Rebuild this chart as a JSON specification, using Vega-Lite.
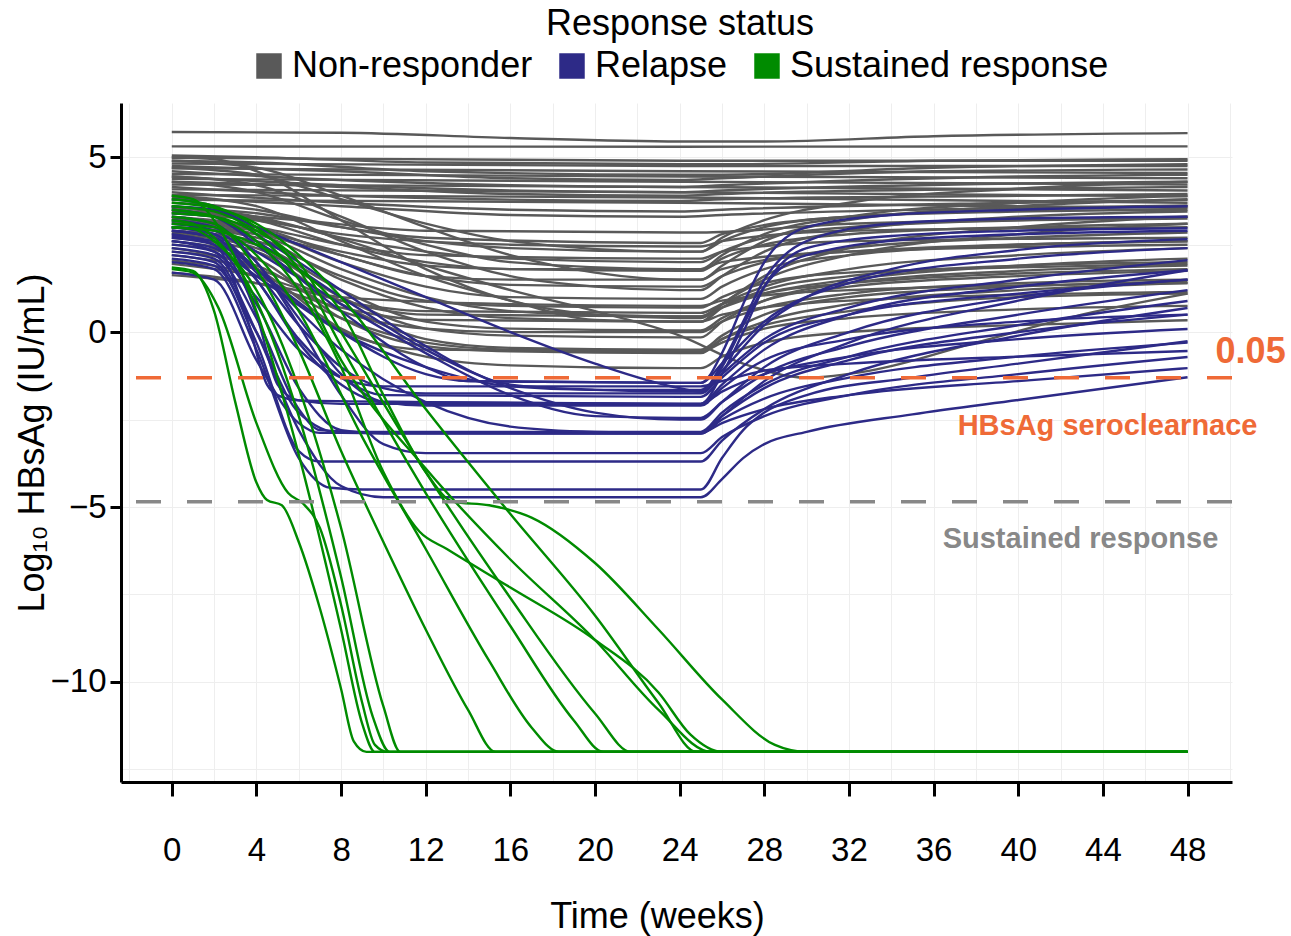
{
"$schema": "https://vega.github.io/schema/vega-lite/v6.json",
"width": 1111, "height": 679,
"autosize": {"type": "none"},
"padding": {"left": 121, "top": 103, "right": 59, "bottom": 154},
"background": "white",
"config": {"font": "Liberation Sans", "view": {"stroke": null},
  "axis": {"labelColor": "black", "titleColor": "black", "titleFontWeight": "normal", "domainColor": "black", "tickColor": "black", "gridColor": "#EEEEEE", "gridWidth": 1}},
"layer": [
{"data": {"values": [
{"i":1,"g":"N","t":0,"v":5.72},{"i":1,"g":"N","t":8,"v":5.7},{"i":1,"g":"N","t":16,"v":5.55},{"i":1,"g":"N","t":24,"v":5.45},{"i":1,"g":"N","t":28,"v":5.45},{"i":1,"g":"N","t":36,"v":5.6},{"i":1,"g":"N","t":48,"v":5.69},
{"i":2,"g":"N","t":0,"v":5.31},{"i":2,"g":"N","t":24,"v":5.3},{"i":2,"g":"N","t":48,"v":5.31},
{"i":3,"g":"N","t":0,"v":5.05},{"i":3,"g":"N","t":4,"v":5.0},{"i":3,"g":"N","t":12,"v":4.85},{"i":3,"g":"N","t":24,"v":4.8},{"i":3,"g":"N","t":26,"v":4.8},{"i":3,"g":"N","t":36,"v":4.9},{"i":3,"g":"N","t":48,"v":4.94},
{"i":4,"g":"N","t":0,"v":4.98},{"i":4,"g":"N","t":24,"v":4.9},{"i":4,"g":"N","t":48,"v":4.9},
{"i":5,"g":"N","t":0,"v":4.9},{"i":5,"g":"N","t":4,"v":4.85},{"i":5,"g":"N","t":12,"v":4.6},{"i":5,"g":"N","t":24,"v":4.5},{"i":5,"g":"N","t":26,"v":4.5},{"i":5,"g":"N","t":36,"v":4.7},{"i":5,"g":"N","t":48,"v":4.8},
{"i":6,"g":"N","t":0,"v":4.82},{"i":6,"g":"N","t":24,"v":4.75},{"i":6,"g":"N","t":48,"v":4.75},
{"i":7,"g":"N","t":0,"v":4.75},{"i":7,"g":"N","t":8,"v":4.6},{"i":7,"g":"N","t":16,"v":4.4},{"i":7,"g":"N","t":24,"v":4.35},{"i":7,"g":"N","t":26,"v":4.4},{"i":7,"g":"N","t":36,"v":4.6},{"i":7,"g":"N","t":48,"v":4.65},
{"i":8,"g":"N","t":0,"v":4.68},{"i":8,"g":"N","t":24,"v":4.6},{"i":8,"g":"N","t":48,"v":4.55},
{"i":9,"g":"N","t":0,"v":4.6},{"i":9,"g":"N","t":6,"v":4.4},{"i":9,"g":"N","t":16,"v":4.2},{"i":9,"g":"N","t":24,"v":4.15},{"i":9,"g":"N","t":26,"v":4.2},{"i":9,"g":"N","t":40,"v":4.45},{"i":9,"g":"N","t":48,"v":4.5},
{"i":10,"g":"N","t":0,"v":4.52},{"i":10,"g":"N","t":24,"v":4.45},{"i":10,"g":"N","t":48,"v":4.4},
{"i":11,"g":"N","t":0,"v":4.45},{"i":11,"g":"N","t":8,"v":4.2},{"i":11,"g":"N","t":24,"v":4.0},{"i":11,"g":"N","t":26,"v":4.05},{"i":11,"g":"N","t":40,"v":4.25},{"i":11,"g":"N","t":48,"v":4.3},
{"i":12,"g":"N","t":0,"v":4.38},{"i":12,"g":"N","t":24,"v":4.3},{"i":12,"g":"N","t":48,"v":4.22},
{"i":13,"g":"N","t":0,"v":4.3},{"i":13,"g":"N","t":6,"v":4.2},{"i":13,"g":"N","t":16,"v":3.95},{"i":13,"g":"N","t":24,"v":3.9},{"i":13,"g":"N","t":26,"v":3.95},{"i":13,"g":"N","t":40,"v":4.1},{"i":13,"g":"N","t":48,"v":4.15},
{"i":14,"g":"N","t":0,"v":4.22},{"i":14,"g":"N","t":24,"v":4.15},{"i":14,"g":"N","t":48,"v":4.05},
{"i":15,"g":"N","t":0,"v":4.15},{"i":15,"g":"N","t":8,"v":3.9},{"i":15,"g":"N","t":24,"v":3.75},{"i":15,"g":"N","t":26,"v":3.8},{"i":15,"g":"N","t":40,"v":3.9},{"i":15,"g":"N","t":48,"v":3.95},
{"i":16,"g":"N","t":0,"v":4.08},{"i":16,"g":"N","t":24,"v":4.0},{"i":16,"g":"N","t":48,"v":3.88},
{"i":17,"g":"N","t":0,"v":4.0},{"i":17,"g":"N","t":8,"v":3.7},{"i":17,"g":"N","t":16,"v":3.5},{"i":17,"g":"N","t":24,"v":3.45},{"i":17,"g":"N","t":26,"v":3.5},{"i":17,"g":"N","t":40,"v":3.7},{"i":17,"g":"N","t":48,"v":3.78},
{"i":18,"g":"N","t":0,"v":3.92},{"i":18,"g":"N","t":24,"v":3.85},{"i":18,"g":"N","t":48,"v":3.7},
{"i":19,"g":"N","t":0,"v":3.85},{"i":19,"g":"N","t":8,"v":3.6},{"i":19,"g":"N","t":16,"v":3.35},{"i":19,"g":"N","t":24,"v":3.3},{"i":19,"g":"N","t":26,"v":3.35},{"i":19,"g":"N","t":40,"v":3.55},{"i":19,"g":"N","t":48,"v":3.62},
{"i":20,"g":"N","t":0,"v":3.78},{"i":20,"g":"N","t":24,"v":3.7},{"i":20,"g":"N","t":48,"v":3.55},
{"i":21,"g":"N","t":0,"v":5.0},{"i":21,"g":"N","t":2,"v":4.95},{"i":21,"g":"N","t":4,"v":4.6},{"i":21,"g":"N","t":8,"v":3.2},{"i":21,"g":"N","t":12,"v":1.8},{"i":21,"g":"N","t":16,"v":0.9},{"i":21,"g":"N","t":20,"v":0.5},{"i":21,"g":"N","t":24,"v":0.4},{"i":21,"g":"N","t":25,"v":0.4},{"i":21,"g":"N","t":26,"v":0.8},{"i":21,"g":"N","t":28,"v":1.6},{"i":21,"g":"N","t":32,"v":2.4},{"i":21,"g":"N","t":40,"v":3.0},{"i":21,"g":"N","t":48,"v":3.3},
{"i":22,"g":"N","t":0,"v":4.9},{"i":22,"g":"N","t":4,"v":4.7},{"i":22,"g":"N","t":8,"v":3.9},{"i":22,"g":"N","t":12,"v":3.0},{"i":22,"g":"N","t":16,"v":2.2},{"i":22,"g":"N","t":20,"v":1.7},{"i":22,"g":"N","t":24,"v":1.5},{"i":22,"g":"N","t":25,"v":1.5},{"i":22,"g":"N","t":26,"v":1.9},{"i":22,"g":"N","t":28,"v":2.6},{"i":22,"g":"N","t":32,"v":3.2},{"i":22,"g":"N","t":40,"v":3.6},{"i":22,"g":"N","t":48,"v":3.8},
{"i":23,"g":"N","t":0,"v":4.45},{"i":23,"g":"N","t":4,"v":4.2},{"i":23,"g":"N","t":8,"v":3.3},{"i":23,"g":"N","t":12,"v":2.3},{"i":23,"g":"N","t":16,"v":1.6},{"i":23,"g":"N","t":20,"v":1.3},{"i":23,"g":"N","t":24,"v":1.2},{"i":23,"g":"N","t":25,"v":1.2},{"i":23,"g":"N","t":26,"v":1.6},{"i":23,"g":"N","t":28,"v":2.3},{"i":23,"g":"N","t":32,"v":2.9},{"i":23,"g":"N","t":40,"v":3.3},{"i":23,"g":"N","t":48,"v":3.45},
{"i":24,"g":"N","t":0,"v":3.6},{"i":24,"g":"N","t":6,"v":3.0},{"i":24,"g":"N","t":12,"v":1.9},{"i":24,"g":"N","t":16,"v":1.2},{"i":24,"g":"N","t":20,"v":0.6},{"i":24,"g":"N","t":24,"v":-0.1},{"i":24,"g":"N","t":27,"v":-0.9},{"i":24,"g":"N","t":30,"v":-1.3},{"i":24,"g":"N","t":33,"v":-1.1},{"i":24,"g":"N","t":38,"v":-0.3},{"i":24,"g":"N","t":43,"v":0.5},{"i":24,"g":"N","t":48,"v":1.1},
{"i":25,"g":"N","t":0,"v":3.7},{"i":25,"g":"N","t":4,"v":3.5},{"i":25,"g":"N","t":8,"v":3.0},{"i":25,"g":"N","t":12,"v":2.6},{"i":25,"g":"N","t":16,"v":2.4},{"i":25,"g":"N","t":24,"v":2.3},{"i":25,"g":"N","t":25,"v":2.3},{"i":25,"g":"N","t":26,"v":2.6},{"i":25,"g":"N","t":28,"v":3.0},{"i":25,"g":"N","t":32,"v":3.3},{"i":25,"g":"N","t":40,"v":3.45},{"i":25,"g":"N","t":48,"v":3.5},
{"i":26,"g":"N","t":0,"v":3.6},{"i":26,"g":"N","t":4,"v":3.3},{"i":26,"g":"N","t":8,"v":2.7},{"i":26,"g":"N","t":12,"v":2.3},{"i":26,"g":"N","t":16,"v":2.1},{"i":26,"g":"N","t":24,"v":2.0},{"i":26,"g":"N","t":25,"v":2.0},{"i":26,"g":"N","t":26,"v":2.3},{"i":26,"g":"N","t":28,"v":2.7},{"i":26,"g":"N","t":32,"v":3.0},{"i":26,"g":"N","t":40,"v":3.2},{"i":26,"g":"N","t":48,"v":3.3},
{"i":27,"g":"N","t":0,"v":3.55},{"i":27,"g":"N","t":4,"v":3.4},{"i":27,"g":"N","t":8,"v":3.0},{"i":27,"g":"N","t":12,"v":2.7},{"i":27,"g":"N","t":24,"v":2.55},{"i":27,"g":"N","t":25,"v":2.55},{"i":27,"g":"N","t":26,"v":2.8},{"i":27,"g":"N","t":32,"v":3.3},{"i":27,"g":"N","t":48,"v":3.6},
{"i":28,"g":"N","t":0,"v":3.45},{"i":28,"g":"N","t":4,"v":3.2},{"i":28,"g":"N","t":8,"v":2.5},{"i":28,"g":"N","t":12,"v":2.0},{"i":28,"g":"N","t":16,"v":1.8},{"i":28,"g":"N","t":24,"v":1.75},{"i":28,"g":"N","t":25,"v":1.75},{"i":28,"g":"N","t":26,"v":2.1},{"i":28,"g":"N","t":28,"v":2.5},{"i":28,"g":"N","t":32,"v":2.8},{"i":28,"g":"N","t":40,"v":3.0},{"i":28,"g":"N","t":48,"v":3.1},
{"i":29,"g":"N","t":0,"v":3.4},{"i":29,"g":"N","t":4,"v":3.2},{"i":29,"g":"N","t":8,"v":2.8},{"i":29,"g":"N","t":16,"v":2.5},{"i":29,"g":"N","t":24,"v":2.45},{"i":29,"g":"N","t":25,"v":2.45},{"i":29,"g":"N","t":26,"v":2.6},{"i":29,"g":"N","t":32,"v":2.9},{"i":29,"g":"N","t":48,"v":3.0},
{"i":30,"g":"N","t":0,"v":3.3},{"i":30,"g":"N","t":4,"v":3.0},{"i":30,"g":"N","t":8,"v":2.2},{"i":30,"g":"N","t":12,"v":1.6},{"i":30,"g":"N","t":16,"v":1.35},{"i":30,"g":"N","t":24,"v":1.3},{"i":30,"g":"N","t":25,"v":1.3},{"i":30,"g":"N","t":26,"v":1.6},{"i":30,"g":"N","t":28,"v":2.0},{"i":30,"g":"N","t":32,"v":2.4},{"i":30,"g":"N","t":40,"v":2.7},{"i":30,"g":"N","t":48,"v":2.85},
{"i":31,"g":"N","t":0,"v":3.25},{"i":31,"g":"N","t":4,"v":3.0},{"i":31,"g":"N","t":8,"v":2.5},{"i":31,"g":"N","t":12,"v":2.2},{"i":31,"g":"N","t":24,"v":2.1},{"i":31,"g":"N","t":25,"v":2.1},{"i":31,"g":"N","t":26,"v":2.3},{"i":31,"g":"N","t":32,"v":2.6},{"i":31,"g":"N","t":48,"v":2.7},
{"i":32,"g":"N","t":0,"v":3.2},{"i":32,"g":"N","t":4,"v":2.9},{"i":32,"g":"N","t":8,"v":2.0},{"i":32,"g":"N","t":12,"v":1.3},{"i":32,"g":"N","t":16,"v":1.0},{"i":32,"g":"N","t":24,"v":0.95},{"i":32,"g":"N","t":25,"v":0.95},{"i":32,"g":"N","t":26,"v":1.3},{"i":32,"g":"N","t":28,"v":1.8},{"i":32,"g":"N","t":32,"v":2.2},{"i":32,"g":"N","t":40,"v":2.5},{"i":32,"g":"N","t":48,"v":2.6},
{"i":33,"g":"N","t":0,"v":3.15},{"i":33,"g":"N","t":4,"v":2.9},{"i":33,"g":"N","t":8,"v":2.3},{"i":33,"g":"N","t":12,"v":1.9},{"i":33,"g":"N","t":16,"v":1.8},{"i":33,"g":"N","t":24,"v":1.8},{"i":33,"g":"N","t":25,"v":1.8},{"i":33,"g":"N","t":26,"v":2.0},{"i":33,"g":"N","t":32,"v":2.3},{"i":33,"g":"N","t":48,"v":2.5},
{"i":34,"g":"N","t":0,"v":3.1},{"i":34,"g":"N","t":4,"v":2.8},{"i":34,"g":"N","t":8,"v":1.8},{"i":34,"g":"N","t":12,"v":1.0},{"i":34,"g":"N","t":16,"v":0.6},{"i":34,"g":"N","t":20,"v":0.5},{"i":34,"g":"N","t":24,"v":0.45},{"i":34,"g":"N","t":25,"v":0.45},{"i":34,"g":"N","t":26,"v":0.8},{"i":34,"g":"N","t":28,"v":1.3},{"i":34,"g":"N","t":32,"v":1.8},{"i":34,"g":"N","t":40,"v":2.2},{"i":34,"g":"N","t":48,"v":2.4},
{"i":35,"g":"N","t":0,"v":3.0},{"i":35,"g":"N","t":4,"v":2.7},{"i":35,"g":"N","t":8,"v":1.5},{"i":35,"g":"N","t":12,"v":0.7},{"i":35,"g":"N","t":16,"v":0.4},{"i":35,"g":"N","t":24,"v":0.3},{"i":35,"g":"N","t":25,"v":0.3},{"i":35,"g":"N","t":26,"v":0.7},{"i":35,"g":"N","t":28,"v":1.2},{"i":35,"g":"N","t":32,"v":1.6},{"i":35,"g":"N","t":40,"v":1.9},{"i":35,"g":"N","t":48,"v":2.0},
{"i":36,"g":"N","t":0,"v":2.9},{"i":36,"g":"N","t":4,"v":2.6},{"i":36,"g":"N","t":8,"v":1.6},{"i":36,"g":"N","t":12,"v":0.9},{"i":36,"g":"N","t":16,"v":0.75},{"i":36,"g":"N","t":24,"v":0.7},{"i":36,"g":"N","t":25,"v":0.7},{"i":36,"g":"N","t":26,"v":1.0},{"i":36,"g":"N","t":28,"v":1.4},{"i":36,"g":"N","t":32,"v":1.7},{"i":36,"g":"N","t":40,"v":1.85},{"i":36,"g":"N","t":48,"v":1.95},
{"i":37,"g":"N","t":0,"v":2.85},{"i":37,"g":"N","t":4,"v":2.5},{"i":37,"g":"N","t":8,"v":1.2},{"i":37,"g":"N","t":12,"v":0.3},{"i":37,"g":"N","t":16,"v":0.1},{"i":37,"g":"N","t":24,"v":0.05},{"i":37,"g":"N","t":25,"v":0.05},{"i":37,"g":"N","t":26,"v":0.4},{"i":37,"g":"N","t":28,"v":0.9},{"i":37,"g":"N","t":32,"v":1.3},{"i":37,"g":"N","t":40,"v":1.6},{"i":37,"g":"N","t":48,"v":1.75},
{"i":38,"g":"N","t":0,"v":2.8},{"i":38,"g":"N","t":4,"v":2.4},{"i":38,"g":"N","t":8,"v":1.0},{"i":38,"g":"N","t":12,"v":0.1},{"i":38,"g":"N","t":16,"v":-0.1},{"i":38,"g":"N","t":24,"v":-0.15},{"i":38,"g":"N","t":25,"v":-0.15},{"i":38,"g":"N","t":26,"v":0.3},{"i":38,"g":"N","t":28,"v":0.9},{"i":38,"g":"N","t":32,"v":1.4},{"i":38,"g":"N","t":40,"v":1.75},{"i":38,"g":"N","t":48,"v":1.9},
{"i":39,"g":"N","t":0,"v":2.7},{"i":39,"g":"N","t":4,"v":2.3},{"i":39,"g":"N","t":8,"v":0.8},{"i":39,"g":"N","t":12,"v":-0.2},{"i":39,"g":"N","t":16,"v":-0.45},{"i":39,"g":"N","t":24,"v":-0.5},{"i":39,"g":"N","t":25,"v":-0.5},{"i":39,"g":"N","t":26,"v":-0.1},{"i":39,"g":"N","t":28,"v":0.5},{"i":39,"g":"N","t":32,"v":1.0},{"i":39,"g":"N","t":40,"v":1.3},{"i":39,"g":"N","t":48,"v":1.45},
{"i":40,"g":"N","t":0,"v":2.6},{"i":40,"g":"N","t":4,"v":2.1},{"i":40,"g":"N","t":8,"v":0.4},{"i":40,"g":"N","t":12,"v":-0.4},{"i":40,"g":"N","t":16,"v":-0.55},{"i":40,"g":"N","t":24,"v":-0.6},{"i":40,"g":"N","t":25,"v":-0.6},{"i":40,"g":"N","t":26,"v":-0.2},{"i":40,"g":"N","t":28,"v":0.3},{"i":40,"g":"N","t":32,"v":0.8},{"i":40,"g":"N","t":40,"v":1.2},{"i":40,"g":"N","t":48,"v":1.4},
{"i":41,"g":"N","t":0,"v":2.5},{"i":41,"g":"N","t":3,"v":2.2},{"i":41,"g":"N","t":6,"v":0.8},{"i":41,"g":"N","t":9,"v":-0.2},{"i":41,"g":"N","t":12,"v":-0.5},{"i":41,"g":"N","t":24,"v":-0.55},{"i":41,"g":"N","t":25,"v":-0.55},{"i":41,"g":"N","t":26,"v":-0.2},{"i":41,"g":"N","t":28,"v":0.2},{"i":41,"g":"N","t":32,"v":0.6},{"i":41,"g":"N","t":40,"v":1.0},{"i":41,"g":"N","t":48,"v":1.1},
{"i":42,"g":"N","t":0,"v":2.4},{"i":42,"g":"N","t":4,"v":1.8},{"i":42,"g":"N","t":8,"v":0.1},{"i":42,"g":"N","t":12,"v":-0.7},{"i":42,"g":"N","t":16,"v":-0.95},{"i":42,"g":"N","t":24,"v":-1.03},{"i":42,"g":"N","t":25,"v":-1.03},{"i":42,"g":"N","t":26,"v":-0.7},{"i":42,"g":"N","t":28,"v":-0.3},{"i":42,"g":"N","t":32,"v":0.0},{"i":42,"g":"N","t":40,"v":0.2},{"i":42,"g":"N","t":48,"v":0.34},
{"i":43,"g":"N","t":0,"v":2.3},{"i":43,"g":"N","t":4,"v":1.9},{"i":43,"g":"N","t":8,"v":0.6},{"i":43,"g":"N","t":12,"v":0.1},{"i":43,"g":"N","t":16,"v":0.0},{"i":43,"g":"N","t":24,"v":0.0},{"i":43,"g":"N","t":25,"v":0.0},{"i":43,"g":"N","t":26,"v":0.3},{"i":43,"g":"N","t":28,"v":0.7},{"i":43,"g":"N","t":32,"v":1.1},{"i":43,"g":"N","t":40,"v":1.4},{"i":43,"g":"N","t":48,"v":1.5},
{"i":44,"g":"N","t":0,"v":2.2},{"i":44,"g":"N","t":4,"v":1.8},{"i":44,"g":"N","t":8,"v":0.9},{"i":44,"g":"N","t":12,"v":0.5},{"i":44,"g":"N","t":24,"v":0.45},{"i":44,"g":"N","t":25,"v":0.45},{"i":44,"g":"N","t":26,"v":0.7},{"i":44,"g":"N","t":28,"v":1.1},{"i":44,"g":"N","t":32,"v":1.5},{"i":44,"g":"N","t":40,"v":1.9},{"i":44,"g":"N","t":48,"v":2.1},
{"i":45,"g":"N","t":0,"v":2.05},{"i":45,"g":"N","t":4,"v":1.6},{"i":45,"g":"N","t":8,"v":0.4},{"i":45,"g":"N","t":12,"v":-0.3},{"i":45,"g":"N","t":16,"v":-0.5},{"i":45,"g":"N","t":24,"v":-0.55},{"i":45,"g":"N","t":25,"v":-0.55},{"i":45,"g":"N","t":26,"v":-0.3},{"i":45,"g":"N","t":28,"v":0.1},{"i":45,"g":"N","t":32,"v":0.4},{"i":45,"g":"N","t":40,"v":0.65},{"i":45,"g":"N","t":48,"v":0.75},
{"i":46,"g":"N","t":0,"v":1.95},{"i":46,"g":"N","t":4,"v":1.6},{"i":46,"g":"N","t":8,"v":0.9},{"i":46,"g":"N","t":12,"v":0.6},{"i":46,"g":"N","t":24,"v":0.55},{"i":46,"g":"N","t":25,"v":0.55},{"i":46,"g":"N","t":26,"v":0.8},{"i":46,"g":"N","t":32,"v":1.4},{"i":46,"g":"N","t":48,"v":1.8},
{"i":47,"g":"N","t":0,"v":1.7},{"i":47,"g":"N","t":4,"v":1.4},{"i":47,"g":"N","t":8,"v":0.7},{"i":47,"g":"N","t":12,"v":0.35},{"i":47,"g":"N","t":24,"v":0.3},{"i":47,"g":"N","t":25,"v":0.3},{"i":47,"g":"N","t":26,"v":0.5},{"i":47,"g":"N","t":32,"v":0.9},{"i":47,"g":"N","t":48,"v":1.15},
{"i":48,"g":"N","t":0,"v":1.63},{"i":48,"g":"N","t":4,"v":1.4},{"i":48,"g":"N","t":8,"v":1.0},{"i":48,"g":"N","t":16,"v":0.8},{"i":48,"g":"N","t":24,"v":0.75},{"i":48,"g":"N","t":25,"v":0.75},{"i":48,"g":"N","t":26,"v":0.9},{"i":48,"g":"N","t":32,"v":1.2},{"i":48,"g":"N","t":48,"v":1.4},
{"i":49,"g":"N","t":0,"v":3.5},{"i":49,"g":"N","t":6,"v":3.2},{"i":49,"g":"N","t":12,"v":2.9},{"i":49,"g":"N","t":24,"v":2.85},{"i":49,"g":"N","t":25,"v":2.85},{"i":49,"g":"N","t":32,"v":3.1},{"i":49,"g":"N","t":48,"v":3.25},
{"i":50,"g":"N","t":0,"v":3.0},{"i":50,"g":"N","t":4,"v":2.8},{"i":50,"g":"N","t":8,"v":2.2},{"i":50,"g":"N","t":12,"v":1.6},{"i":50,"g":"N","t":16,"v":1.5},{"i":50,"g":"N","t":24,"v":1.5},{"i":50,"g":"N","t":25,"v":1.5},{"i":50,"g":"N","t":26,"v":1.8},{"i":50,"g":"N","t":32,"v":2.3},{"i":50,"g":"N","t":48,"v":2.6},
{"i":51,"g":"N","t":0,"v":4.3},{"i":51,"g":"N","t":4,"v":4.0},{"i":51,"g":"N","t":8,"v":3.2},{"i":51,"g":"N","t":12,"v":2.5},{"i":51,"g":"N","t":16,"v":2.0},{"i":51,"g":"N","t":24,"v":1.8},{"i":51,"g":"N","t":25,"v":1.8},{"i":51,"g":"N","t":26,"v":2.2},{"i":51,"g":"N","t":28,"v":2.8},{"i":51,"g":"N","t":32,"v":3.3},{"i":51,"g":"N","t":40,"v":3.7},{"i":51,"g":"N","t":48,"v":3.9},
{"i":52,"g":"N","t":0,"v":4.7},{"i":52,"g":"N","t":4,"v":4.5},{"i":52,"g":"N","t":8,"v":3.8},{"i":52,"g":"N","t":12,"v":3.1},{"i":52,"g":"N","t":16,"v":2.6},{"i":52,"g":"N","t":24,"v":2.3},{"i":52,"g":"N","t":25,"v":2.3},{"i":52,"g":"N","t":26,"v":2.7},{"i":52,"g":"N","t":28,"v":3.2},{"i":52,"g":"N","t":32,"v":3.7},{"i":52,"g":"N","t":40,"v":4.1},{"i":52,"g":"N","t":48,"v":4.3},
{"i":53,"g":"N","t":0,"v":3.9},{"i":53,"g":"N","t":4,"v":3.6},{"i":53,"g":"N","t":8,"v":2.6},{"i":53,"g":"N","t":12,"v":1.6},{"i":53,"g":"N","t":16,"v":0.9},{"i":53,"g":"N","t":20,"v":0.35},{"i":53,"g":"N","t":24,"v":0.3},{"i":53,"g":"N","t":25,"v":0.3},{"i":53,"g":"N","t":26,"v":0.8},{"i":53,"g":"N","t":28,"v":1.5},{"i":53,"g":"N","t":32,"v":2.2},{"i":53,"g":"N","t":40,"v":2.8},{"i":53,"g":"N","t":48,"v":3.1},
{"i":101,"g":"R","t":0,"v":3.0},{"i":101,"g":"R","t":2,"v":2.8},{"i":101,"g":"R","t":4,"v":1.8},{"i":101,"g":"R","t":8,"v":0.0},{"i":101,"g":"R","t":12,"v":-1.2},{"i":101,"g":"R","t":14,"v":-1.4},{"i":101,"g":"R","t":24,"v":-1.45},{"i":101,"g":"R","t":25,"v":-1.45},{"i":101,"g":"R","t":26,"v":-0.6},{"i":101,"g":"R","t":27,"v":0.8},{"i":101,"g":"R","t":28,"v":2.0},{"i":101,"g":"R","t":30,"v":3.0},{"i":101,"g":"R","t":34,"v":3.35},{"i":101,"g":"R","t":40,"v":3.5},{"i":101,"g":"R","t":48,"v":3.6},
{"i":102,"g":"R","t":0,"v":2.8},{"i":102,"g":"R","t":2,"v":2.5},{"i":102,"g":"R","t":4,"v":0.5},{"i":102,"g":"R","t":5,"v":-1.5},{"i":102,"g":"R","t":6,"v":-1.95},{"i":102,"g":"R","t":8,"v":-2.05},{"i":102,"g":"R","t":24,"v":-2.05},{"i":102,"g":"R","t":25,"v":-2.05},{"i":102,"g":"R","t":26,"v":-1.2},{"i":102,"g":"R","t":27,"v":0.0},{"i":102,"g":"R","t":28,"v":1.3},{"i":102,"g":"R","t":30,"v":2.4},{"i":102,"g":"R","t":34,"v":2.75},{"i":102,"g":"R","t":40,"v":2.9},{"i":102,"g":"R","t":48,"v":2.97},
{"i":103,"g":"R","t":0,"v":2.6},{"i":103,"g":"R","t":2,"v":2.4},{"i":103,"g":"R","t":4,"v":1.6},{"i":103,"g":"R","t":8,"v":0.0},{"i":103,"g":"R","t":12,"v":-1.0},{"i":103,"g":"R","t":16,"v":-1.55},{"i":103,"g":"R","t":20,"v":-1.65},{"i":103,"g":"R","t":24,"v":-1.65},{"i":103,"g":"R","t":25,"v":-1.65},{"i":103,"g":"R","t":26,"v":-1.1},{"i":103,"g":"R","t":28,"v":0.2},{"i":103,"g":"R","t":30,"v":1.0},{"i":103,"g":"R","t":34,"v":1.8},{"i":103,"g":"R","t":40,"v":2.35},{"i":103,"g":"R","t":48,"v":2.66},
{"i":104,"g":"R","t":0,"v":2.9},{"i":104,"g":"R","t":2,"v":2.7},{"i":104,"g":"R","t":4,"v":1.7},{"i":104,"g":"R","t":6,"v":0.2},{"i":104,"g":"R","t":8,"v":-1.0},{"i":104,"g":"R","t":10,"v":-1.6},{"i":104,"g":"R","t":12,"v":-1.75},{"i":104,"g":"R","t":24,"v":-1.75},{"i":104,"g":"R","t":25,"v":-1.75},{"i":104,"g":"R","t":26,"v":-1.2},{"i":104,"g":"R","t":28,"v":-0.2},{"i":104,"g":"R","t":32,"v":0.7},{"i":104,"g":"R","t":40,"v":1.5},{"i":104,"g":"R","t":48,"v":2.06},
{"i":105,"g":"R","t":0,"v":2.5},{"i":105,"g":"R","t":2,"v":2.3},{"i":105,"g":"R","t":4,"v":0.8},{"i":105,"g":"R","t":6,"v":-1.6},{"i":105,"g":"R","t":8,"v":-2.8},{"i":105,"g":"R","t":10,"v":-2.9},{"i":105,"g":"R","t":24,"v":-2.9},{"i":105,"g":"R","t":25,"v":-2.9},{"i":105,"g":"R","t":26,"v":-2.4},{"i":105,"g":"R","t":28,"v":-1.4},{"i":105,"g":"R","t":32,"v":-0.3},{"i":105,"g":"R","t":40,"v":0.9},{"i":105,"g":"R","t":48,"v":1.77},
{"i":106,"g":"R","t":0,"v":3.2},{"i":106,"g":"R","t":2,"v":3.0},{"i":106,"g":"R","t":4,"v":2.3},{"i":106,"g":"R","t":8,"v":0.8},{"i":106,"g":"R","t":12,"v":-0.6},{"i":106,"g":"R","t":16,"v":-1.8},{"i":106,"g":"R","t":20,"v":-2.4},{"i":106,"g":"R","t":24,"v":-2.45},{"i":106,"g":"R","t":25,"v":-2.45},{"i":106,"g":"R","t":26,"v":-2.0},{"i":106,"g":"R","t":28,"v":-1.2},{"i":106,"g":"R","t":32,"v":-0.4},{"i":106,"g":"R","t":40,"v":0.5},{"i":106,"g":"R","t":48,"v":1.2},
{"i":107,"g":"R","t":0,"v":2.4},{"i":107,"g":"R","t":2,"v":2.2},{"i":107,"g":"R","t":4,"v":0.4},{"i":107,"g":"R","t":6,"v":-2.2},{"i":107,"g":"R","t":7,"v":-2.8},{"i":107,"g":"R","t":9,"v":-2.85},{"i":107,"g":"R","t":24,"v":-2.85},{"i":107,"g":"R","t":25,"v":-2.85},{"i":107,"g":"R","t":26,"v":-2.3},{"i":107,"g":"R","t":28,"v":-1.5},{"i":107,"g":"R","t":32,"v":-0.7},{"i":107,"g":"R","t":40,"v":0.2},{"i":107,"g":"R","t":48,"v":0.89},
{"i":108,"g":"R","t":0,"v":2.2},{"i":108,"g":"R","t":2,"v":2.0},{"i":108,"g":"R","t":4,"v":-0.3},{"i":108,"g":"R","t":6,"v":-3.4},{"i":108,"g":"R","t":7,"v":-3.7},{"i":108,"g":"R","t":24,"v":-3.7},{"i":108,"g":"R","t":25,"v":-3.7},{"i":108,"g":"R","t":26,"v":-3.1},{"i":108,"g":"R","t":28,"v":-2.2},{"i":108,"g":"R","t":32,"v":-1.2},{"i":108,"g":"R","t":40,"v":-0.1},{"i":108,"g":"R","t":48,"v":0.69},
{"i":109,"g":"R","t":0,"v":2.7},{"i":109,"g":"R","t":2,"v":2.5},{"i":109,"g":"R","t":3.5,"v":0.5},{"i":109,"g":"R","t":4.5,"v":-1.5},{"i":109,"g":"R","t":5,"v":-1.8},{"i":109,"g":"R","t":6,"v":-1.95},{"i":109,"g":"R","t":12,"v":-2.0},{"i":109,"g":"R","t":24,"v":-2.05},{"i":109,"g":"R","t":25,"v":-2.05},{"i":109,"g":"R","t":26,"v":-1.7},{"i":109,"g":"R","t":28,"v":-1.2},{"i":109,"g":"R","t":32,"v":-0.7},{"i":109,"g":"R","t":40,"v":-0.2},{"i":109,"g":"R","t":48,"v":0.09},
{"i":110,"g":"R","t":0,"v":2.0},{"i":110,"g":"R","t":2,"v":1.8},{"i":110,"g":"R","t":4,"v":-0.5},{"i":110,"g":"R","t":6,"v":-3.6},{"i":110,"g":"R","t":7.5,"v":-4.45},{"i":110,"g":"R","t":9,"v":-4.5},{"i":110,"g":"R","t":24,"v":-4.5},{"i":110,"g":"R","t":25,"v":-4.5},{"i":110,"g":"R","t":26,"v":-3.6},{"i":110,"g":"R","t":27,"v":-2.8},{"i":110,"g":"R","t":28,"v":-2.3},{"i":110,"g":"R","t":30,"v":-1.8},{"i":110,"g":"R","t":35,"v":-1.3},{"i":110,"g":"R","t":40,"v":-0.9},{"i":110,"g":"R","t":48,"v":-0.26},
{"i":111,"g":"R","t":0,"v":2.3},{"i":111,"g":"R","t":2,"v":2.1},{"i":111,"g":"R","t":4,"v":0.0},{"i":111,"g":"R","t":6,"v":-2.8},{"i":111,"g":"R","t":8,"v":-4.4},{"i":111,"g":"R","t":10,"v":-4.72},{"i":111,"g":"R","t":24,"v":-4.72},{"i":111,"g":"R","t":25,"v":-4.72},{"i":111,"g":"R","t":26,"v":-4.2},{"i":111,"g":"R","t":27,"v":-3.6},{"i":111,"g":"R","t":28,"v":-3.2},{"i":111,"g":"R","t":30,"v":-2.85},{"i":111,"g":"R","t":35,"v":-2.35},{"i":111,"g":"R","t":40,"v":-1.94},{"i":111,"g":"R","t":48,"v":-1.29},
{"i":112,"g":"R","t":0,"v":3.1},{"i":112,"g":"R","t":2,"v":2.9},{"i":112,"g":"R","t":4,"v":2.0},{"i":112,"g":"R","t":6,"v":0.2},{"i":112,"g":"R","t":8,"v":-1.8},{"i":112,"g":"R","t":10,"v":-3.2},{"i":112,"g":"R","t":12,"v":-3.46},{"i":112,"g":"R","t":24,"v":-3.46},{"i":112,"g":"R","t":25,"v":-3.46},{"i":112,"g":"R","t":26,"v":-3.0},{"i":112,"g":"R","t":28,"v":-2.4},{"i":112,"g":"R","t":32,"v":-1.8},{"i":112,"g":"R","t":40,"v":-1.2},{"i":112,"g":"R","t":48,"v":-0.71},
{"i":113,"g":"R","t":0,"v":1.7},{"i":113,"g":"R","t":2,"v":1.5},{"i":113,"g":"R","t":4,"v":-0.8},{"i":113,"g":"R","t":6,"v":-2.6},{"i":113,"g":"R","t":7,"v":-2.88},{"i":113,"g":"R","t":24,"v":-2.88},{"i":113,"g":"R","t":25,"v":-2.88},{"i":113,"g":"R","t":26,"v":-2.6},{"i":113,"g":"R","t":28,"v":-2.2},{"i":113,"g":"R","t":32,"v":-1.8},{"i":113,"g":"R","t":40,"v":-1.4},{"i":113,"g":"R","t":48,"v":-1.03},
{"i":114,"g":"R","t":0,"v":2.6},{"i":114,"g":"R","t":2,"v":2.3},{"i":114,"g":"R","t":4,"v":1.0},{"i":114,"g":"R","t":6,"v":-0.5},{"i":114,"g":"R","t":8,"v":-1.3},{"i":114,"g":"R","t":10,"v":-1.55},{"i":114,"g":"R","t":24,"v":-1.55},{"i":114,"g":"R","t":25,"v":-1.55},{"i":114,"g":"R","t":26,"v":-1.4},{"i":114,"g":"R","t":28,"v":-1.1},{"i":114,"g":"R","t":32,"v":-0.9},{"i":114,"g":"R","t":40,"v":-0.7},{"i":114,"g":"R","t":48,"v":-0.54},
{"i":115,"g":"R","t":0,"v":3.4},{"i":115,"g":"R","t":2,"v":3.3},{"i":115,"g":"R","t":4,"v":2.6},{"i":115,"g":"R","t":8,"v":1.0},{"i":115,"g":"R","t":12,"v":-0.5},{"i":115,"g":"R","t":16,"v":-1.6},{"i":115,"g":"R","t":20,"v":-2.3},{"i":115,"g":"R","t":24,"v":-2.5},{"i":115,"g":"R","t":25,"v":-2.5},{"i":115,"g":"R","t":26,"v":-2.0},{"i":115,"g":"R","t":28,"v":-1.0},{"i":115,"g":"R","t":32,"v":0.0},{"i":115,"g":"R","t":40,"v":1.0},{"i":115,"g":"R","t":48,"v":1.5},
{"i":116,"g":"R","t":0,"v":3.6},{"i":116,"g":"R","t":2,"v":3.5},{"i":116,"g":"R","t":4,"v":3.0},{"i":116,"g":"R","t":8,"v":2.0},{"i":116,"g":"R","t":12,"v":1.0},{"i":116,"g":"R","t":16,"v":0.0},{"i":116,"g":"R","t":20,"v":-0.9},{"i":116,"g":"R","t":24,"v":-1.6},{"i":116,"g":"R","t":25,"v":-1.7},{"i":116,"g":"R","t":26,"v":-0.9},{"i":116,"g":"R","t":27,"v":0.3},{"i":116,"g":"R","t":28,"v":1.5},{"i":116,"g":"R","t":30,"v":2.6},{"i":116,"g":"R","t":34,"v":3.1},{"i":116,"g":"R","t":40,"v":3.25},{"i":116,"g":"R","t":48,"v":3.3},
{"i":117,"g":"R","t":0,"v":2.9},{"i":117,"g":"R","t":2,"v":2.7},{"i":117,"g":"R","t":4,"v":1.5},{"i":117,"g":"R","t":6,"v":-0.2},{"i":117,"g":"R","t":8,"v":-1.3},{"i":117,"g":"R","t":10,"v":-1.8},{"i":117,"g":"R","t":24,"v":-1.85},{"i":117,"g":"R","t":25,"v":-1.85},{"i":117,"g":"R","t":26,"v":-1.3},{"i":117,"g":"R","t":28,"v":-0.3},{"i":117,"g":"R","t":32,"v":0.5},{"i":117,"g":"R","t":40,"v":1.1},{"i":117,"g":"R","t":48,"v":1.5},
{"i":118,"g":"R","t":0,"v":3.3},{"i":118,"g":"R","t":2,"v":3.1},{"i":118,"g":"R","t":4,"v":2.0},{"i":118,"g":"R","t":6,"v":0.4},{"i":118,"g":"R","t":8,"v":-1.2},{"i":118,"g":"R","t":10,"v":-2.0},{"i":118,"g":"R","t":12,"v":-2.1},{"i":118,"g":"R","t":24,"v":-2.1},{"i":118,"g":"R","t":25,"v":-2.1},{"i":118,"g":"R","t":26,"v":-1.6},{"i":118,"g":"R","t":28,"v":-0.8},{"i":118,"g":"R","t":32,"v":-0.2},{"i":118,"g":"R","t":40,"v":0.3},{"i":118,"g":"R","t":48,"v":0.5},
{"i":119,"g":"R","t":0,"v":2.1},{"i":119,"g":"R","t":2,"v":1.9},{"i":119,"g":"R","t":4,"v":0.0},{"i":119,"g":"R","t":6,"v":-2.3},{"i":119,"g":"R","t":8,"v":-2.88},{"i":119,"g":"R","t":24,"v":-2.9},{"i":119,"g":"R","t":25,"v":-2.9},{"i":119,"g":"R","t":26,"v":-2.5},{"i":119,"g":"R","t":28,"v":-1.9},{"i":119,"g":"R","t":32,"v":-1.3},{"i":119,"g":"R","t":40,"v":-0.7},{"i":119,"g":"R","t":48,"v":-0.3},
{"i":120,"g":"R","t":0,"v":3.5},{"i":120,"g":"R","t":2,"v":3.3},{"i":120,"g":"R","t":4,"v":2.5},{"i":120,"g":"R","t":8,"v":0.6},{"i":120,"g":"R","t":12,"v":-1.0},{"i":120,"g":"R","t":14,"v":-1.4},{"i":120,"g":"R","t":24,"v":-1.45},{"i":120,"g":"R","t":25,"v":-1.45},{"i":120,"g":"R","t":26,"v":-0.9},{"i":120,"g":"R","t":28,"v":0.3},{"i":120,"g":"R","t":32,"v":1.4},{"i":120,"g":"R","t":40,"v":2.1},{"i":120,"g":"R","t":48,"v":2.4},
{"i":121,"g":"R","t":0,"v":3.8},{"i":121,"g":"R","t":2,"v":3.6},{"i":121,"g":"R","t":4,"v":2.8},{"i":121,"g":"R","t":8,"v":1.2},{"i":121,"g":"R","t":12,"v":-0.4},{"i":121,"g":"R","t":16,"v":-1.5},{"i":121,"g":"R","t":20,"v":-1.65},{"i":121,"g":"R","t":24,"v":-1.7},{"i":121,"g":"R","t":25,"v":-1.7},{"i":121,"g":"R","t":26,"v":-1.0},{"i":121,"g":"R","t":27,"v":0.2},{"i":121,"g":"R","t":28,"v":1.3},{"i":121,"g":"R","t":30,"v":2.2},{"i":121,"g":"R","t":36,"v":2.7},{"i":121,"g":"R","t":48,"v":2.9},
{"i":122,"g":"R","t":0,"v":2.75},{"i":122,"g":"R","t":2,"v":2.6},{"i":122,"g":"R","t":4,"v":1.5},{"i":122,"g":"R","t":6,"v":-0.3},{"i":122,"g":"R","t":8,"v":-1.5},{"i":122,"g":"R","t":10,"v":-2.0},{"i":122,"g":"R","t":24,"v":-2.05},{"i":122,"g":"R","t":25,"v":-2.05},{"i":122,"g":"R","t":26,"v":-1.5},{"i":122,"g":"R","t":28,"v":-0.5},{"i":122,"g":"R","t":32,"v":0.5},{"i":122,"g":"R","t":40,"v":1.3},{"i":122,"g":"R","t":48,"v":1.77},
{"i":123,"g":"R","t":0,"v":3.0},{"i":123,"g":"R","t":2,"v":2.8},{"i":123,"g":"R","t":4,"v":1.8},{"i":123,"g":"R","t":8,"v":-0.5},{"i":123,"g":"R","t":12,"v":-2.0},{"i":123,"g":"R","t":16,"v":-2.7},{"i":123,"g":"R","t":20,"v":-2.85},{"i":123,"g":"R","t":24,"v":-2.88},{"i":123,"g":"R","t":25,"v":-2.88},{"i":123,"g":"R","t":26,"v":-2.4},{"i":123,"g":"R","t":28,"v":-1.6},{"i":123,"g":"R","t":32,"v":-0.8},{"i":123,"g":"R","t":40,"v":0.0},{"i":123,"g":"R","t":48,"v":0.5},
{"i":201,"g":"S","t":0,"v":1.85},{"i":201,"g":"S","t":1,"v":1.75},{"i":201,"g":"S","t":2,"v":0.6},{"i":201,"g":"S","t":3,"v":-2.0},{"i":201,"g":"S","t":4,"v":-4.3},{"i":201,"g":"S","t":4.5,"v":-4.8},{"i":201,"g":"S","t":5.2,"v":-4.95},{"i":201,"g":"S","t":6,"v":-6.0},{"i":201,"g":"S","t":7,"v":-7.9},{"i":201,"g":"S","t":8,"v":-10.2},{"i":201,"g":"S","t":8.6,"v":-11.7},{"i":201,"g":"S","t":9.2,"v":-12},{"i":201,"g":"S","t":48,"v":-12},
{"i":202,"g":"S","t":0,"v":1.8},{"i":202,"g":"S","t":1,"v":1.7},{"i":202,"g":"S","t":2.2,"v":0.7},{"i":202,"g":"S","t":4,"v":-2.6},{"i":202,"g":"S","t":5.5,"v":-4.6},{"i":202,"g":"S","t":6.2,"v":-4.9},{"i":202,"g":"S","t":7,"v":-5.6},{"i":202,"g":"S","t":8,"v":-7.8},{"i":202,"g":"S","t":9,"v":-10.6},{"i":202,"g":"S","t":9.6,"v":-11.8},{"i":202,"g":"S","t":10.2,"v":-12},{"i":202,"g":"S","t":48,"v":-12},
{"i":203,"g":"S","t":0,"v":3.9},{"i":203,"g":"S","t":1,"v":3.8},{"i":203,"g":"S","t":2,"v":3.2},{"i":203,"g":"S","t":4,"v":0.6},{"i":203,"g":"S","t":6,"v":-3.5},{"i":203,"g":"S","t":8,"v":-8.5},{"i":203,"g":"S","t":9,"v":-11.2},{"i":203,"g":"S","t":9.6,"v":-12},{"i":203,"g":"S","t":48,"v":-12},
{"i":204,"g":"S","t":0,"v":3.2},{"i":204,"g":"S","t":1,"v":3.1},{"i":204,"g":"S","t":2,"v":2.7},{"i":204,"g":"S","t":4,"v":0.9},{"i":204,"g":"S","t":6,"v":-2.4},{"i":204,"g":"S","t":8,"v":-7.0},{"i":204,"g":"S","t":9.5,"v":-11.0},{"i":204,"g":"S","t":10.3,"v":-12},{"i":204,"g":"S","t":48,"v":-12},
{"i":205,"g":"S","t":0,"v":3.0},{"i":205,"g":"S","t":1,"v":2.95},{"i":205,"g":"S","t":2,"v":2.6},{"i":205,"g":"S","t":4,"v":1.2},{"i":205,"g":"S","t":6,"v":-1.6},{"i":205,"g":"S","t":8,"v":-5.6},{"i":205,"g":"S","t":10,"v":-10.7},{"i":205,"g":"S","t":10.8,"v":-12},{"i":205,"g":"S","t":48,"v":-12},
{"i":206,"g":"S","t":0,"v":3.3},{"i":206,"g":"S","t":2,"v":3.1},{"i":206,"g":"S","t":4,"v":1.8},{"i":206,"g":"S","t":6,"v":-0.5},{"i":206,"g":"S","t":8,"v":-3.4},{"i":206,"g":"S","t":10,"v":-6.0},{"i":206,"g":"S","t":12,"v":-8.5},{"i":206,"g":"S","t":14,"v":-10.8},{"i":206,"g":"S","t":15.3,"v":-12},{"i":206,"g":"S","t":48,"v":-12},
{"i":207,"g":"S","t":0,"v":3.1},{"i":207,"g":"S","t":2,"v":3.0},{"i":207,"g":"S","t":4,"v":2.2},{"i":207,"g":"S","t":6,"v":0.6},{"i":207,"g":"S","t":9,"v":-3.0},{"i":207,"g":"S","t":12,"v":-6.2},{"i":207,"g":"S","t":15,"v":-9.4},{"i":207,"g":"S","t":17,"v":-11.3},{"i":207,"g":"S","t":18.3,"v":-12},{"i":207,"g":"S","t":48,"v":-12},
{"i":208,"g":"S","t":0,"v":3.8},{"i":208,"g":"S","t":2,"v":3.6},{"i":208,"g":"S","t":4,"v":3.0},{"i":208,"g":"S","t":6,"v":1.8},{"i":208,"g":"S","t":8,"v":-0.4},{"i":208,"g":"S","t":12,"v":-4.6},{"i":208,"g":"S","t":16,"v":-8.4},{"i":208,"g":"S","t":19,"v":-11.1},{"i":208,"g":"S","t":20.4,"v":-12},{"i":208,"g":"S","t":48,"v":-12},
{"i":209,"g":"S","t":0,"v":3.6},{"i":209,"g":"S","t":2,"v":3.45},{"i":209,"g":"S","t":4,"v":2.9},{"i":209,"g":"S","t":6,"v":2.0},{"i":209,"g":"S","t":8,"v":0.0},{"i":209,"g":"S","t":12,"v":-4.0},{"i":209,"g":"S","t":16,"v":-7.6},{"i":209,"g":"S","t":20,"v":-10.9},{"i":209,"g":"S","t":21.7,"v":-12},{"i":209,"g":"S","t":48,"v":-12},
{"i":210,"g":"S","t":0,"v":3.5},{"i":210,"g":"S","t":2,"v":3.3},{"i":210,"g":"S","t":4,"v":2.6},{"i":210,"g":"S","t":6,"v":1.2},{"i":210,"g":"S","t":8,"v":-1.0},{"i":210,"g":"S","t":10,"v":-4.0},{"i":210,"g":"S","t":11.7,"v":-5.7},{"i":210,"g":"S","t":13,"v":-6.2},{"i":210,"g":"S","t":16,"v":-7.3},{"i":210,"g":"S","t":20,"v":-8.8},{"i":210,"g":"S","t":23,"v":-10.3},{"i":210,"g":"S","t":24.5,"v":-11.5},{"i":210,"g":"S","t":26,"v":-12},{"i":210,"g":"S","t":48,"v":-12},
{"i":211,"g":"S","t":0,"v":3.7},{"i":211,"g":"S","t":2,"v":3.55},{"i":211,"g":"S","t":4,"v":3.1},{"i":211,"g":"S","t":8,"v":1.0},{"i":211,"g":"S","t":12,"v":-2.2},{"i":211,"g":"S","t":16,"v":-5.2},{"i":211,"g":"S","t":20,"v":-8.1},{"i":211,"g":"S","t":23,"v":-10.6},{"i":211,"g":"S","t":24.8,"v":-12},{"i":211,"g":"S","t":48,"v":-12},
{"i":212,"g":"S","t":0,"v":3.0},{"i":212,"g":"S","t":2,"v":2.9},{"i":212,"g":"S","t":4,"v":2.5},{"i":212,"g":"S","t":6,"v":1.8},{"i":212,"g":"S","t":8,"v":0.6},{"i":212,"g":"S","t":10,"v":-1.8},{"i":212,"g":"S","t":12,"v":-4.0},{"i":212,"g":"S","t":13.3,"v":-4.85},{"i":212,"g":"S","t":15,"v":-4.95},{"i":212,"g":"S","t":17,"v":-5.3},{"i":212,"g":"S","t":20,"v":-6.6},{"i":212,"g":"S","t":23,"v":-8.5},{"i":212,"g":"S","t":26,"v":-10.5},{"i":212,"g":"S","t":28.5,"v":-11.8},{"i":212,"g":"S","t":30,"v":-12},{"i":212,"g":"S","t":48,"v":-12},
{"i":213,"g":"S","t":0,"v":3.4},{"i":213,"g":"S","t":2,"v":3.3},{"i":213,"g":"S","t":4,"v":2.8},{"i":213,"g":"S","t":6,"v":1.5},{"i":213,"g":"S","t":8,"v":-0.8},{"i":213,"g":"S","t":12,"v":-3.9},{"i":213,"g":"S","t":16,"v":-6.5},{"i":213,"g":"S","t":20,"v":-8.8},{"i":213,"g":"S","t":23,"v":-10.8},{"i":213,"g":"S","t":25.5,"v":-12},{"i":213,"g":"S","t":48,"v":-12}
]},
 "mark": {"type": "line", "interpolate": "monotone", "strokeWidth": 2.4},
 "encoding": {
  "x": {"field": "t", "type": "quantitative",
    "scale": {"domain": [-2.4, 50.1], "nice": false, "zero": false},
    "axis": {"values": [-2,0,2,4,6,8,10,12,14,16,18,20,22,24,26,28,30,32,34,36,38,40,42,44,46,48,50],
      "format": "d",
      "labelExpr": "(datum.value % 4 === 0 && datum.value >= 0 && datum.value <= 48) ? datum.label : ''",
      "tickOpacity": {"condition": {"test": "datum.value % 4 === 0 && datum.value >= 0 && datum.value <= 48", "value": 1}, "value": 0},
      "grid": true, "domainWidth": 3, "tickWidth": 3, "tickSize": 14,
      "labelFontSize": 33, "labelPadding": 38, "labelFlush": false, "labelOverlap": false,
      "title": "Time (weeks)", "titleFontSize": 36, "titleX": 536, "titleY": 145, "titleBaseline": "alphabetic"}},
  "y": {"field": "v", "type": "quantitative",
    "scale": {"domain": [-12.86, 6.55], "nice": false, "zero": false},
    "axis": {"values": [-12.5,-10,-7.5,-5,-2.5,0,2.5,5],
      "format": "~g",
      "labelExpr": "datum.value % 5 === 0 ? datum.label : ''",
      "tickOpacity": {"condition": {"test": "datum.value % 5 === 0", "value": 1}, "value": 0},
      "grid": true, "domainWidth": 3, "tickWidth": 3, "tickSize": 11,
      "labelFontSize": 33, "labelPadding": 4, "labelOverlap": false,
      "title": "Log₁₀ HBsAg (IU/mL)", "titleFontSize": 36, "titleAngle": 270, "titleX": -89, "titleY": 339.5, "titleBaseline": "middle", "titleAlign": "center"}},
  "color": {"field": "g", "type": "nominal",
    "scale": {"domain": ["N","R","S"], "range": ["#595959","#2D2A87","#008B00"]},
    "legend": {"title": "Response status", "orient": "none", "legendX": 130, "legendY": -96,
      "direction": "horizontal", "titleOrient": "top", "titleAnchor": "middle", "titleLimit": 900,
      "titleFontSize": 36, "titleFontWeight": "normal", "titleColor": "black", "titlePadding": 5,
      "labelFontSize": 36, "labelColor": "black", "labelOffset": 5, "labelLimit": 500,
      "labelExpr": "datum.label == 'N' ? 'Non-responder' : (datum.label == 'R' ? 'Relapse' : 'Sustained response')",
      "symbolType": "square", "symbolSize": 650, "symbolStrokeWidth": 0, "columnPadding": 21, "padding": 0,
      "encode": {"symbols": {"update": {"fill": {"scale": "color", "field": "value"}, "fillOpacity": {"value": 1}, "strokeWidth": {"value": 0}}}}}},
  "detail": {"field": "i", "type": "nominal"}
 }},
{"data": {"values": [{"v": -1.301}]},
 "mark": {"type": "rule", "color": "#EF6A37", "strokeWidth": 3.5, "strokeDash": [25, 26]},
 "encoding": {"y": {"field": "v", "type": "quantitative"}}},
{"data": {"values": [{"v": -4.85}]},
 "mark": {"type": "rule", "color": "#888888", "strokeWidth": 3.5, "strokeDash": [25, 26]},
 "encoding": {"y": {"field": "v", "type": "quantitative"}}},
{"data": {"values": [{"t": 50.98, "v": -0.57, "label": "0.05"}]},
 "mark": {"type": "text", "color": "#EF6A37", "fontSize": 36, "fontWeight": "bold", "align": "center", "baseline": "middle"},
 "encoding": {"x": {"field": "t", "type": "quantitative"}, "y": {"field": "v", "type": "quantitative"}, "text": {"field": "label"}}},
{"data": {"values": [{"t": 44.22, "v": -2.69, "label": "HBsAg seroclearnace"}]},
 "mark": {"type": "text", "color": "#EF6A37", "fontSize": 29, "fontWeight": "bold", "align": "center", "baseline": "middle"},
 "encoding": {"x": {"field": "t", "type": "quantitative"}, "y": {"field": "v", "type": "quantitative"}, "text": {"field": "label"}}},
{"data": {"values": [{"t": 42.94, "v": -5.91, "label": "Sustained response"}]},
 "mark": {"type": "text", "color": "#888888", "fontSize": 29, "fontWeight": "bold", "align": "center", "baseline": "middle"},
 "encoding": {"x": {"field": "t", "type": "quantitative"}, "y": {"field": "v", "type": "quantitative"}, "text": {"field": "label"}}}
]
}
